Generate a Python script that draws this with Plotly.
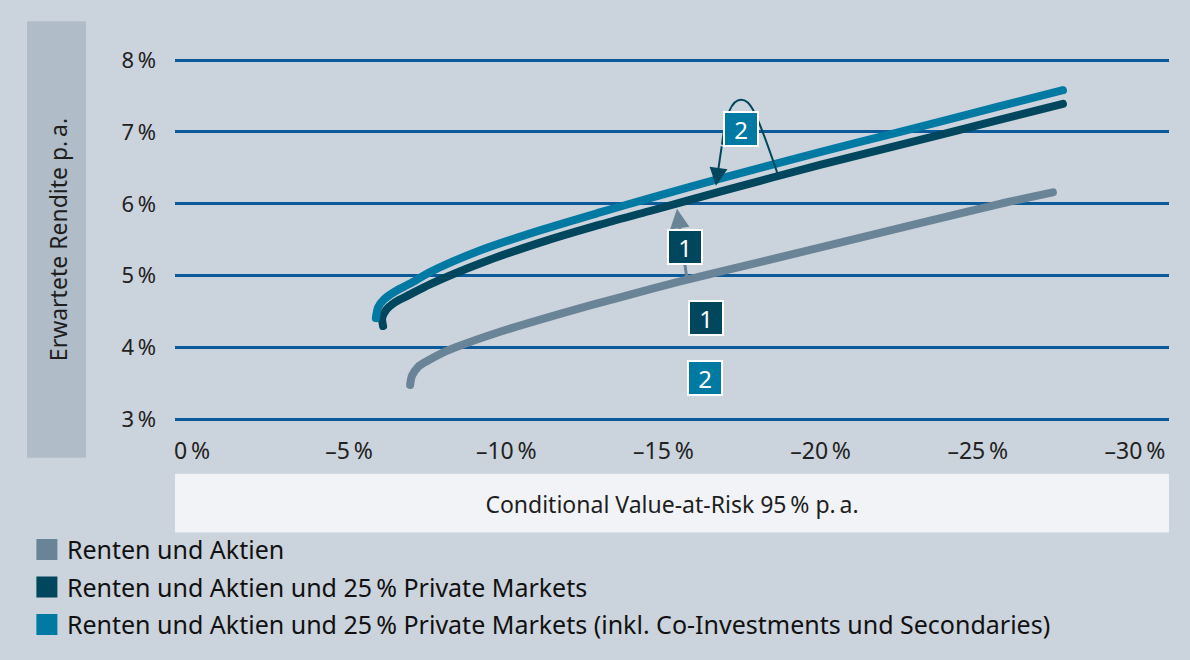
import plotly.graph_objects as go

# ---- data ----
series_names = [
    "Renten und Aktien",
    "Renten und Aktien und 25\u2009% Private Markets",
    "Renten und Aktien und 25\u2009% Private Markets (inkl. Co-Investments und Secondaries)",
]
series_colors = ["#6a8497", "#00475e", "#0079a3"]

gray_x = [-6.94, -7.00, -7.19, -7.51, -7.89, -8.37, -9.80, -11.71, -13.62, -15.53, -18.07, -20.62, -23.16, -25.71, -27.39]
gray_y = [3.48, 3.61, 3.73, 3.82, 3.91, 4.00, 4.22, 4.47, 4.70, 4.92, 5.19, 5.46, 5.73, 6.00, 6.16]

dark_x = [-6.08, -6.05, -6.17, -6.46, -6.94, -7.57, -9.16, -11.07, -12.98, -14.57, -16.80, -19.98, -22.53, -25.71, -27.71]
dark_y = [4.30, 4.41, 4.52, 4.63, 4.74, 4.88, 5.17, 5.46, 5.71, 5.90, 6.17, 6.54, 6.82, 7.17, 7.39]

teal_x = [-5.85, -5.92, -6.11, -6.46, -6.94, -7.57, -9.16, -11.07, -12.98, -14.57, -16.80, -19.98, -22.53, -25.71, -27.71]
teal_y = [4.41, 4.56, 4.67, 4.78, 4.89, 5.05, 5.35, 5.63, 5.88, 6.08, 6.35, 6.72, 7.00, 7.36, 7.58]

x_ticks = [0, -5, -10, -15, -20, -25, -30]
x_ticklabels = ["0\u2009%", "\u20135\u2009%", "\u201310\u2009%", "\u201315\u2009%", "\u201320\u2009%", "\u201325\u2009%", "\u201330\u2009%"]
y_ticks = [3, 4, 5, 6, 7, 8]
y_ticklabels = ["3\u2009%", "4\u2009%", "5\u2009%", "6\u2009%", "7\u2009%", "8\u2009%"]

x_title = "Conditional Value-at-Risk 95\u2009% p.\u2009a."
y_title = "Erwartete Rendite p.\u2009a."

FONT = "Noto Sans"
BG = "#cbd3dc"
GRID = "#0b5a9a"

fig = go.Figure()
for xs, ys, col in [(gray_x, gray_y, series_colors[0]), (dark_x, dark_y, series_colors[1]), (teal_x, teal_y, series_colors[2])]:
    fig.add_trace(go.Scatter(x=xs, y=ys, mode="lines", showlegend=False, hoverinfo="skip",
                             line=dict(color=col, width=8, shape="spline", smoothing=0.8)))

# legend entries (square swatches)
for i, (name, col) in enumerate(zip(series_names, series_colors)):
    fig.add_trace(go.Scatter(x=[None], y=[None], mode="markers", name=name, legendgroup=f"g{i}",
                             marker=dict(symbol="square", size=16, color=col, line=dict(color=col, width=5))))

# background boxes for axis titles
fig.add_shape(type="rect", xref="paper", yref="paper", x0=-0.1489, x1=-0.0895, y0=-0.101, y1=1.101,
              fillcolor="#b0bcc8", line_width=0, layer="below")
fig.add_shape(type="rect", xref="paper", yref="paper", x0=0, x1=1, y0=-0.307, y1=-0.145,
              fillcolor="#f1f3f6", line_width=0, layer="below")

# curved connector for annotation 2
fig.add_shape(type="path", xref="x", yref="y",
              path="M -16.863,6.824 C -16.99,7.308 -17.213,7.447 -17.467,7.447 C -17.754,7.447 -17.945,7.308 -18.645,6.40",
              line=dict(color="#00475e", width=2))

# arrow 1 (gray) from gray curve to dark curve
fig.add_annotation(x=-15.43, y=5.93, ax=-15.75, ay=4.95, axref="x", ayref="y", xref="x", yref="y",
                   text="", showarrow=True, arrowhead=2, arrowsize=1.3, arrowwidth=3, arrowcolor="#6a8497")
# arrow 2 (dark) from box down to curves
fig.add_annotation(x=-16.67, y=6.25, ax=-16.86, ay=6.82, axref="x", ayref="y", xref="x", yref="y",
                   text="", showarrow=True, arrowhead=2, arrowsize=1.8, arrowwidth=2, arrowcolor="#00475e")

box_font = dict(family=FONT, size=24, color="white")
def box(x, y, label, col):
    fig.add_annotation(x=x, y=y, xref="x", yref="y", text=label, showarrow=False, font=box_font,
                       bgcolor=col, bordercolor="white", borderwidth=2, borderpad=1, width=30, height=30)

box(-15.69, 5.40, "1", "#00475e")
box(-17.47, 7.039, "2", "#0079a3")
box(-16.35, 4.418, "1", "#00475e")
box(-16.32, 3.574, "2", "#0079a3")

fig.update_layout(
    width=1190, height=660,
    margin=dict(l=175, r=21, t=58, b=237),
    paper_bgcolor=BG, plot_bgcolor=BG,
    font=dict(family=FONT, size=22, color="#1e1e1e"),
    showlegend=True,
    legend=dict(x=-0.149, xanchor="left", y=-0.291, yanchor="top", bgcolor="rgba(0,0,0,0)",
                font=dict(family=FONT, size=25, color="#111111"), tracegroupgap=2, itemclick=False),
    xaxis=dict(range=[0.541, -31.085], tickvals=x_ticks, ticktext=x_ticklabels, showgrid=False,
               zeroline=False, showline=False, ticks="", ticklabelstandoff=14,
               tickfont=dict(size=23, color="#222222"),
               title=dict(text=x_title, standoff=31, font=dict(size=23, color="#1e1e1e"))),
    yaxis=dict(range=[2.979, 8.028], tickvals=y_ticks, ticktext=y_ticklabels, showgrid=True,
               gridcolor=GRID, gridwidth=2.5, zeroline=False, showline=False, ticks="",
               ticklabelstandoff=18, tickfont=dict(size=22, color="#222222"),
               title=dict(text=y_title, standoff=47, font=dict(size=23, color="#1e1e1e"))),
)

post = """
document.body.style.margin='0';
document.querySelectorAll('.scatterlayer path.js-line').forEach(function(p){p.style.strokeLinecap='round';p.style.strokeLinejoin='round';});
"""
fig.write_html("out.html", post_script=post, config={"displayModeBar": False})
